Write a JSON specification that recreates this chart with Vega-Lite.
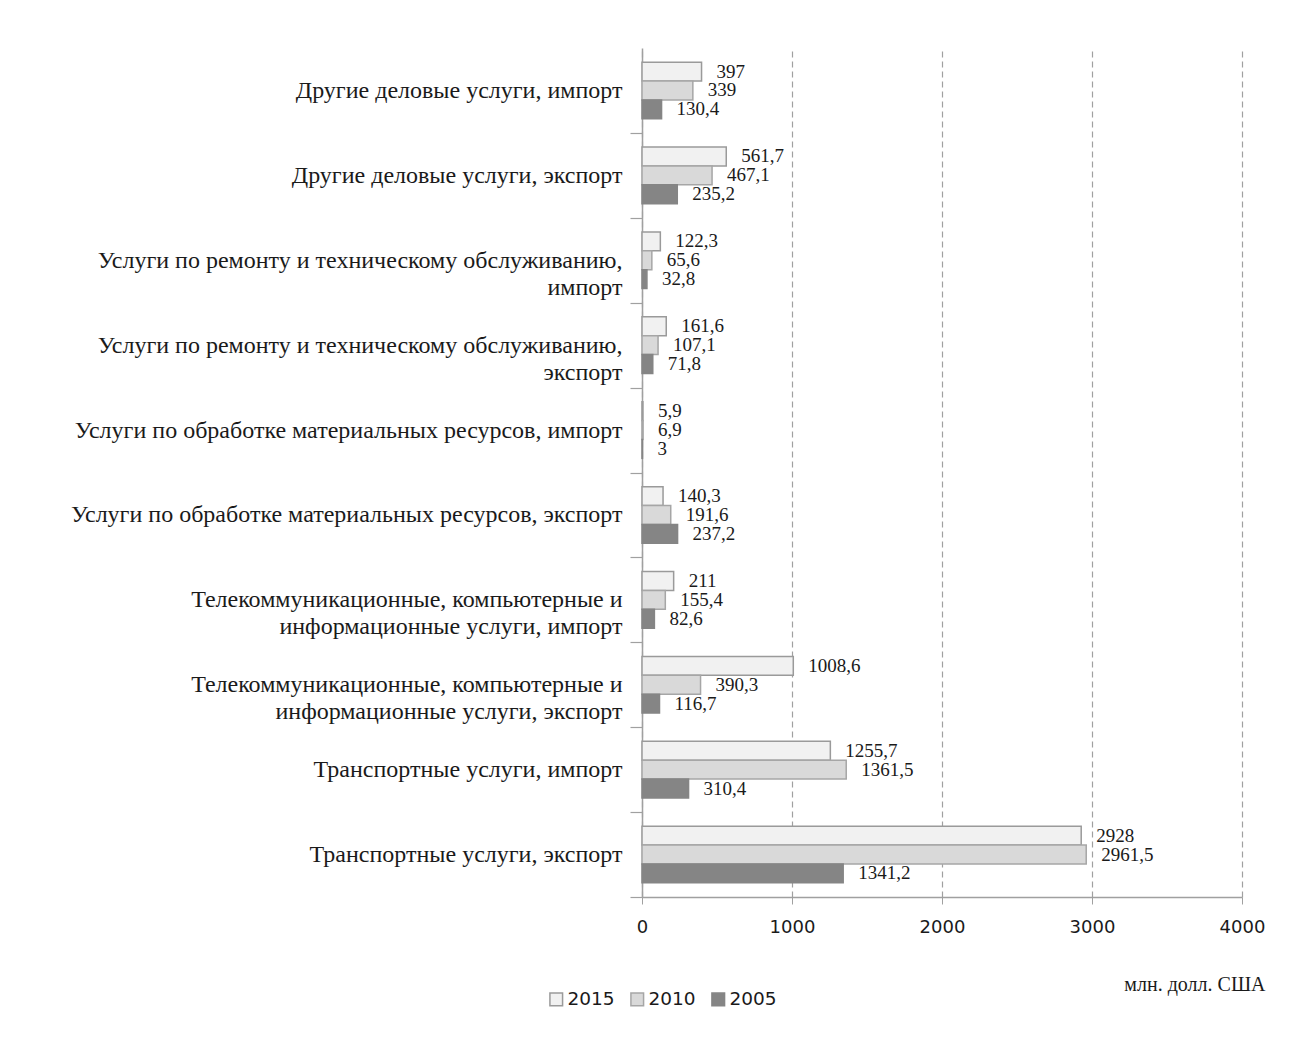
{
  "$schema": "https://vega.github.io/schema/vega-lite/v6.json",
  "autosize": "none",
  "width": 600,
  "height": 849,
  "padding": {"left": 642, "top": 48, "right": 60, "bottom": 140},
  "background": "white",
  "config": {
    "view": {"stroke": null},
    "locale": {"number": {"decimal": ",", "thousands": " ", "grouping": [3], "currency": ["", ""]}}
  },
  "data": {
    "values": [
      {"category": "Другие деловые услуги, импорт", "year": "2015", "value": 397},
      {"category": "Другие деловые услуги, импорт", "year": "2010", "value": 339},
      {"category": "Другие деловые услуги, импорт", "year": "2005", "value": 130.4},
      {"category": "Другие деловые услуги, экспорт", "year": "2015", "value": 561.7},
      {"category": "Другие деловые услуги, экспорт", "year": "2010", "value": 467.1},
      {"category": "Другие деловые услуги, экспорт", "year": "2005", "value": 235.2},
      {"category": "Услуги по ремонту и техническому обслуживанию,\nимпорт", "year": "2015", "value": 122.3},
      {"category": "Услуги по ремонту и техническому обслуживанию,\nимпорт", "year": "2010", "value": 65.6},
      {"category": "Услуги по ремонту и техническому обслуживанию,\nимпорт", "year": "2005", "value": 32.8},
      {"category": "Услуги по ремонту и техническому обслуживанию,\nэкспорт", "year": "2015", "value": 161.6},
      {"category": "Услуги по ремонту и техническому обслуживанию,\nэкспорт", "year": "2010", "value": 107.1},
      {"category": "Услуги по ремонту и техническому обслуживанию,\nэкспорт", "year": "2005", "value": 71.8},
      {"category": "Услуги по обработке материальных ресурсов, импорт", "year": "2015", "value": 5.9},
      {"category": "Услуги по обработке материальных ресурсов, импорт", "year": "2010", "value": 6.9},
      {"category": "Услуги по обработке материальных ресурсов, импорт", "year": "2005", "value": 3},
      {"category": "Услуги по обработке материальных ресурсов, экспорт", "year": "2015", "value": 140.3},
      {"category": "Услуги по обработке материальных ресурсов, экспорт", "year": "2010", "value": 191.6},
      {"category": "Услуги по обработке материальных ресурсов, экспорт", "year": "2005", "value": 237.2},
      {"category": "Телекоммуникационные, компьютерные и\nинформационные услуги, импорт", "year": "2015", "value": 211},
      {"category": "Телекоммуникационные, компьютерные и\nинформационные услуги, импорт", "year": "2010", "value": 155.4},
      {"category": "Телекоммуникационные, компьютерные и\nинформационные услуги, импорт", "year": "2005", "value": 82.6},
      {"category": "Телекоммуникационные, компьютерные и\nинформационные услуги, экспорт", "year": "2015", "value": 1008.6},
      {"category": "Телекоммуникационные, компьютерные и\nинформационные услуги, экспорт", "year": "2010", "value": 390.3},
      {"category": "Телекоммуникационные, компьютерные и\nинформационные услуги, экспорт", "year": "2005", "value": 116.7},
      {"category": "Транспортные услуги, импорт", "year": "2015", "value": 1255.7},
      {"category": "Транспортные услуги, импорт", "year": "2010", "value": 1361.5},
      {"category": "Транспортные услуги, импорт", "year": "2005", "value": 310.4},
      {"category": "Транспортные услуги, экспорт", "year": "2015", "value": 2928},
      {"category": "Транспортные услуги, экспорт", "year": "2010", "value": 2961.5},
      {"category": "Транспортные услуги, экспорт", "year": "2005", "value": 1341.2}
    ]
  },
  "encoding": {
    "y": {
      "field": "category",
      "type": "nominal",
      "sort": null,
      "scale": {"paddingInner": 0.333, "paddingOuter": 0.1667},
      "axis": {
        "title": null,
        "labelExpr": "split(datum.label, '\\n')",
        "labelFont": "Liberation Serif",
        "labelFontSize": 24,
        "labelColor": "#1a1a1a",
        "labelLineHeight": 27,
        "labelPadding": 8,
        "labelLimit": 700,
        "tickOffset": 42.45,
        "labelOffset": -42.45,
        "tickSize": 12,
        "tickColor": "#a0a0a0",
        "tickWidth": 1.2,
        "domainColor": "#a0a0a0",
        "domainWidth": 1.5,
        "grid": false
      }
    },
    "yOffset": {
      "field": "year",
      "type": "nominal",
      "sort": ["2015", "2010", "2005"],
      "scale": {"paddingInner": 0, "paddingOuter": 0}
    }
  },
  "layer": [
    {
      "mark": {"type": "bar", "strokeWidth": 1.5},
      "encoding": {
        "x": {
          "field": "value",
          "type": "quantitative",
          "scale": {"domain": [0, 4000], "nice": false},
          "axis": {
            "values": [0, 1000, 2000, 3000, 4000],
            "format": "d",
            "labelFlush": false,
            "labelFont": "DejaVu Sans",
            "labelFontSize": 18,
            "labelColor": "#1a1a1a",
            "labelPadding": 14,
            "tickSize": 7,
            "tickColor": "#a0a0a0",
            "domainColor": "#a0a0a0",
            "domainWidth": 1.5,
            "grid": true,
            "gridColor": "#a0a0a0",
            "gridDash": [6, 4],
            "gridWidth": 1.2,
            "title": "млн. долл. США",
            "titleFont": "Liberation Serif",
            "titleFontSize": 20,
            "titleFontWeight": "normal",
            "titleColor": "#1a1a1a",
            "titleAlign": "right",
            "titleAnchor": null,
            "titleBaseline": "middle",
            "titleX": 623,
            "titleY": 87
          }
        },
        "fill": {
          "field": "year",
          "type": "nominal",
          "sort": ["2015", "2010", "2005"],
          "scale": {"domain": ["2015", "2010", "2005"], "range": ["#f1f1f1", "#d9d9d9", "#858585"]},
          "legend": {
            "title": null,
            "orient": "none",
            "legendX": -95,
            "legendY": 942,
            "direction": "horizontal",
            "symbolType": "square",
            "symbolSize": 160,
            "symbolStrokeWidth": 1.5,
            "labelFont": "DejaVu Sans",
            "labelFontSize": 18.5,
            "labelColor": "#1a1a1a",
            "labelOffset": 2,
            "columnPadding": 12
          }
        },
        "stroke": {
          "field": "year",
          "type": "nominal",
          "sort": ["2015", "2010", "2005"],
          "scale": {"domain": ["2015", "2010", "2005"], "range": ["#9a9a9a", "#a6a6a6", "#858585"]},
          "legend": null
        }
      }
    },
    {
      "mark": {"type": "text", "align": "left", "baseline": "middle", "dx": 15, "font": "Liberation Serif", "fontSize": 19, "color": "#1a1a1a"},
      "encoding": {
        "x": {"field": "value", "type": "quantitative"},
        "text": {"field": "value", "type": "quantitative", "format": "~f"}
      }
    }
  ]
}
